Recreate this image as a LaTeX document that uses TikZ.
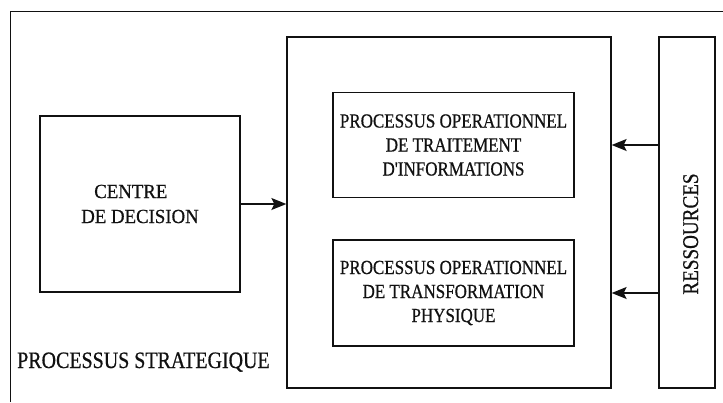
\documentclass[tikz,border=0pt]{standalone}
\usepackage{fontspec}
\setmainfont{Liberation Serif}
\newfontfamily\narrowfont[FakeStretch=0.85,FakeBold=0.6]{Liberation Serif}
\newfontfamily\plainfont[FakeStretch=0.94,FakeBold=0.6]{Liberation Serif}
\usetikzlibrary{arrows.meta,calc,positioning}
\definecolor{ScanInk}{HTML}{111111}
\tikzset{
  every node/.style={font=\plainfont\fontsize{20}{25}\selectfont, text=ScanInk, inner sep=0pt},
  frame/.style={draw=ScanInk, line width=1.3pt},
  block/.style={draw=ScanInk, line width=1.3pt, minimum width=#1},
  optext/.style={font=\narrowfont\fontsize{20}{24}\selectfont, align=center},
  flow/.style={-{Stealth[length=15pt,width=12pt,inset=3pt]}, draw=ScanInk, line width=1.5pt},
}
\begin{document}
\begin{tikzpicture}[x=1pt,y=-1pt]
  \useasboundingbox (0,0) rectangle (723,402);
  % outer frame runs off the right and bottom edges
  \draw[frame] (10.5,402) -- (10.5,11.5) -- (723,11.5);
  \node[block=200pt, minimum height=176pt, align=left] (decision) at (140,204)
    {\hspace*{13pt}CENTRE\\DE DECISION};
  \node[block=324pt, minimum height=351pt] (operations) at (449,212.5) {};
  \node[block=241pt, minimum height=105pt, optext] (treatment) at (453.5,145)
    {PROCESSUS OPERATIONNEL\\DE TRAITEMENT\\D'INFORMATIONS};
  \node[block=241pt, minimum height=106pt, optext] (transform) at (453.5,293)
    {PROCESSUS OPERATIONNEL\\DE TRANSFORMATION\\PHYSIQUE};
  \node[block=56pt, minimum height=351pt] (resources) at (687,212.5) {};
  \node[rotate=90, anchor=base, font=\narrowfont\fontsize{22.5}{27}\selectfont]
    (resLabel) at (698,234) {RESSOURCES};
  \node[anchor=base west, font=\narrowfont\fontsize{23.5}{28}\selectfont]
    (strategic) at (17,368) {PROCESSUS STRATEGIQUE};
  % flows
  \draw[flow] (decision.east) -- (operations.west |- decision.east);
  \draw[flow] (resources.west |- treatment.center) -- (operations.east |- treatment.center);
  \draw[flow] (resources.west |- transform.center) -- (operations.east |- transform.center);
\end{tikzpicture}
\end{document}
